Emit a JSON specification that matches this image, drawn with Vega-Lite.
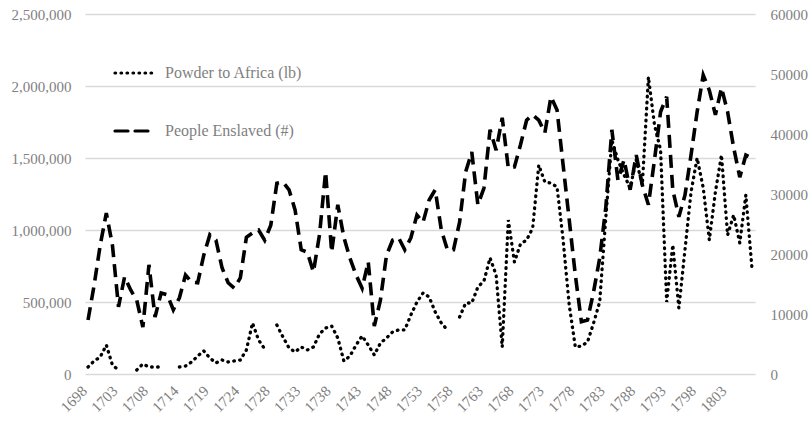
{
  "$schema": "https://vega.github.io/schema/vega-lite/v6.json",
  "width": 670,
  "height": 360,
  "autosize": {"type": "none"},
  "padding": {"left": 85, "top": 14, "right": 57, "bottom": 47},
  "background": "white",
  "config": {
    "view": {"stroke": null},
    "font": "Liberation Serif",
    "axis": {"labelFont": "Liberation Serif", "labelColor": "#7f7f7f", "labelFontSize": 15, "domain": false, "ticks": false, "title": null, "grid": false},
    "legend": {
      "orient": "none", "legendX": 28, "legendY": 37, "padding": 0, "title": null,
      "symbolType": "stroke", "symbolSize": 1600, "symbolStrokeWidth": 3.2, "symbolStrokeColor": "black",
      "labelFont": "Liberation Serif", "labelFontSize": 16, "labelColor": "#7f7f7f", "labelOffset": 8,
      "rowPadding": 28
    }
  },
  "data": {"values": [
    {"i":0,"powder":48600,"enslaved":9000},
    {"i":1,"powder":90300,"enslaved":14800},
    {"i":2,"powder":118000,"enslaved":21500},
    {"i":3,"powder":201000,"enslaved":26800},
    {"i":4,"powder":62500,"enslaved":21500},
    {"i":5,"powder":27800,"enslaved":11200},
    {"i":6,"powder":null,"enslaved":16200},
    {"i":7,"powder":null,"enslaved":14000},
    {"i":8,"powder":27800,"enslaved":12300},
    {"i":9,"powder":69400,"enslaved":7800},
    {"i":10,"powder":48600,"enslaved":18200},
    {"i":11,"powder":48600,"enslaved":9500},
    {"i":12,"powder":48600,"enslaved":13500},
    {"i":13,"powder":null,"enslaved":13200},
    {"i":14,"powder":null,"enslaved":10700},
    {"i":15,"powder":48600,"enslaved":12700},
    {"i":16,"powder":55600,"enslaved":16500},
    {"i":17,"powder":83300,"enslaved":15300},
    {"i":18,"powder":125000,"enslaved":15200},
    {"i":19,"powder":160000,"enslaved":19800},
    {"i":20,"powder":111000,"enslaved":23200},
    {"i":21,"powder":76400,"enslaved":22300},
    {"i":22,"powder":97200,"enslaved":17700},
    {"i":23,"powder":83300,"enslaved":15200},
    {"i":24,"powder":90300,"enslaved":14300},
    {"i":25,"powder":97200,"enslaved":16000},
    {"i":26,"powder":167000,"enslaved":22800},
    {"i":27,"powder":354000,"enslaved":23500},
    {"i":28,"powder":236000,"enslaved":24000},
    {"i":29,"powder":174000,"enslaved":22300},
    {"i":30,"powder":null,"enslaved":24800},
    {"i":31,"powder":340000,"enslaved":31800},
    {"i":32,"powder":257000,"enslaved":32000},
    {"i":33,"powder":181000,"enslaved":30700},
    {"i":34,"powder":153000,"enslaved":27300},
    {"i":35,"powder":187500,"enslaved":20700},
    {"i":36,"powder":167000,"enslaved":20300},
    {"i":37,"powder":187500,"enslaved":17000},
    {"i":38,"powder":278000,"enslaved":23200},
    {"i":39,"powder":319000,"enslaved":33700},
    {"i":40,"powder":333000,"enslaved":20300},
    {"i":41,"powder":250000,"enslaved":28200},
    {"i":42,"powder":90300,"enslaved":22800},
    {"i":43,"powder":125000,"enslaved":19300},
    {"i":44,"powder":201000,"enslaved":16500},
    {"i":45,"powder":264000,"enslaved":14300},
    {"i":46,"powder":201000,"enslaved":18700},
    {"i":47,"powder":132000,"enslaved":8000},
    {"i":48,"powder":215000,"enslaved":12300},
    {"i":49,"powder":250000,"enslaved":19800},
    {"i":50,"powder":292000,"enslaved":22300},
    {"i":51,"powder":306000,"enslaved":22700},
    {"i":52,"powder":306000,"enslaved":20700},
    {"i":53,"powder":410000,"enslaved":22700},
    {"i":54,"powder":500000,"enslaved":26500},
    {"i":55,"powder":562500,"enslaved":25300},
    {"i":56,"powder":535000,"enslaved":29000},
    {"i":57,"powder":430500,"enslaved":30700},
    {"i":58,"powder":354000,"enslaved":24000},
    {"i":59,"powder":306000,"enslaved":20700},
    {"i":60,"powder":null,"enslaved":20700},
    {"i":61,"powder":396000,"enslaved":25300},
    {"i":62,"powder":493000,"enslaved":33700},
    {"i":63,"powder":493000,"enslaved":37000},
    {"i":64,"powder":604000,"enslaved":28200},
    {"i":65,"powder":646000,"enslaved":31000},
    {"i":66,"powder":806000,"enslaved":40700},
    {"i":67,"powder":687500,"enslaved":37300},
    {"i":68,"powder":187500,"enslaved":42700},
    {"i":69,"powder":1069000,"enslaved":34300},
    {"i":70,"powder":778000,"enslaved":34500},
    {"i":71,"powder":903000,"enslaved":38200},
    {"i":72,"powder":930500,"enslaved":42300},
    {"i":73,"powder":1014000,"enslaved":43200},
    {"i":74,"powder":1451000,"enslaved":42300},
    {"i":75,"powder":1333000,"enslaved":40200},
    {"i":76,"powder":1326000,"enslaved":46200},
    {"i":77,"powder":1299000,"enslaved":44000},
    {"i":78,"powder":930500,"enslaved":34800},
    {"i":79,"powder":479000,"enslaved":25700},
    {"i":80,"powder":187500,"enslaved":16500},
    {"i":81,"powder":194000,"enslaved":8700},
    {"i":82,"powder":222000,"enslaved":9000},
    {"i":83,"powder":354000,"enslaved":13700},
    {"i":84,"powder":500000,"enslaved":19300},
    {"i":85,"powder":1083000,"enslaved":27700},
    {"i":86,"powder":1625000,"enslaved":40700},
    {"i":87,"powder":1486000,"enslaved":32300},
    {"i":88,"powder":1382000,"enslaved":35700},
    {"i":89,"powder":1292000,"enslaved":30700},
    {"i":90,"powder":1486000,"enslaved":36500},
    {"i":91,"powder":1312500,"enslaved":31500},
    {"i":92,"powder":2062500,"enslaved":28200},
    {"i":93,"powder":1729000,"enslaved":35700},
    {"i":94,"powder":1555500,"enslaved":43700},
    {"i":95,"powder":500000,"enslaved":46200},
    {"i":96,"powder":896000,"enslaved":30700},
    {"i":97,"powder":458000,"enslaved":26200},
    {"i":98,"powder":861000,"enslaved":29800},
    {"i":99,"powder":1264000,"enslaved":36500},
    {"i":100,"powder":1500000,"enslaved":43700},
    {"i":101,"powder":1292000,"enslaved":49800},
    {"i":102,"powder":930500,"enslaved":47300},
    {"i":103,"powder":1264000,"enslaved":43200},
    {"i":104,"powder":1521000,"enslaved":47700},
    {"i":105,"powder":965000,"enslaved":43700},
    {"i":106,"powder":1104000,"enslaved":37700},
    {"i":107,"powder":910000,"enslaved":32800},
    {"i":108,"powder":1243000,"enslaved":36500},
    {"i":109,"powder":736000,"enslaved":36000}
  ]},
  "encoding": {
    "x": {
      "field": "i", "type": "ordinal",
      "scale": {"type": "point", "padding": 0.5},
      "axis": {
        "values": [0,5,10,15,20,25,30,35,40,45,50,55,60,65,70,75,80,85,90,95,100,105],
        "labelExpr": "['1698','1703','1708','1714','1719','1724','1728','1733','1738','1743','1748','1753','1758','1763','1768','1773','1778','1783','1788','1793','1798','1803'][datum.value / 5]",
        "labelAngle": -45, "labelAlign": "right", "labelBaseline": "middle", "labelPadding": 14,
        "labelOffset": -4,
        "labelFontSize": 15
      }
    }
  },
  "layer": [
    {
      "mark": {"type": "line", "color": "black", "strokeWidth": 3.3, "strokeCap": "round"},
      "encoding": {
        "y": {"field": "powder", "type": "quantitative",
              "scale": {"domain": [0, 2500000], "nice": false},
              "axis": {"values": [0,500000,1000000,1500000,2000000,2500000], "format": ",d", "grid": true, "gridColor": "#d9d9d9", "gridWidth": 1.5, "labelPadding": 14}},
        "strokeDash": {"datum": "Powder to Africa (lb)",
              "scale": {"domain": ["Powder to Africa (lb)", "People Enslaved (#)"], "range": [[0.6, 5.4], [13, 7]]},
              "legend": {"encode": {"symbols": {"update": {"strokeCap": {"value": "round"}}}}}}
      }
    },
    {
      "mark": {"type": "line", "color": "black", "strokeWidth": 3.6},
      "encoding": {
        "y": {"field": "enslaved", "type": "quantitative",
              "scale": {"domain": [0, 60000], "nice": false},
              "axis": {"orient": "right", "values": [0,10000,20000,30000,40000,50000,60000], "format": "d", "labelPadding": 15}},
        "strokeDash": {"datum": "People Enslaved (#)"}
      }
    }
  ],
  "resolve": {"scale": {"y": "independent"}}
}
